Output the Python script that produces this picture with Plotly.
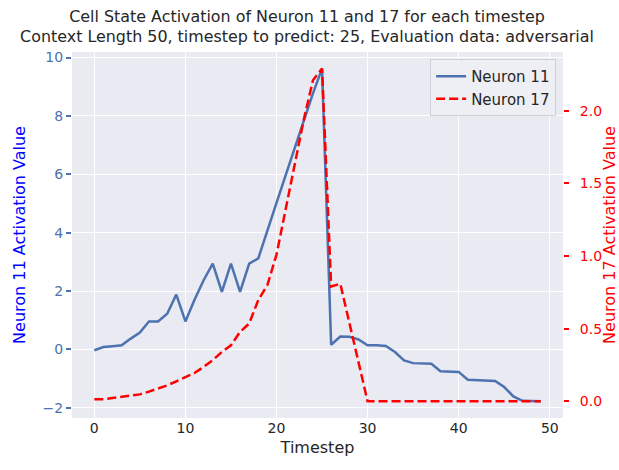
import plotly.graph_objects as go

timesteps = list(range(50))

neuron_11 = [
    -0.03, 0.08, 0.11, 0.14, 0.37, 0.58, 0.96, 0.96, 1.22, 1.88,
    0.96, 1.70, 2.37, 2.94, 1.97, 2.94, 1.97, 2.94, 3.12, 4.10,
    5.02, 5.96, 6.89, 7.85, 8.77, 9.62, 0.16, 0.44, 0.43, 0.34,
    0.14, 0.14, 0.12, -0.09, -0.38, -0.47, -0.47, -0.49, -0.75, -0.75,
    -0.77, -1.04, -1.06, -1.08, -1.08, -1.29, -1.61, -1.76, -1.78, -1.78,
]

neuron_17 = [
    0.015, 0.015, 0.023, 0.030, 0.037, 0.048, 0.067, 0.088, 0.110, 0.138,
    0.168, 0.195, 0.237, 0.283, 0.340, 0.386, 0.478, 0.536, 0.697, 0.800,
    1.01, 1.32, 1.62, 1.94, 2.21, 2.29, 0.79, 0.81, 0.54, 0.27,
    0.0, 0.0, 0.0, 0.0, 0.0, 0.0, 0.0, 0.0, 0.0, 0.0,
    0.0, 0.0, 0.0, 0.0, 0.0, 0.0, 0.0, 0.0, 0.0, 0.0,
]

x_ticks = [0, 10, 20, 30, 40, 50]
y1_ticks = [-2, 0, 2, 4, 6, 8, 10]
y2_ticks = [0.0, 0.5, 1.0, 1.5, 2.0]
y2_labels = ["0.0", "0.5", "1.0", "1.5", "2.0"]

title_text = ("Cell State Activation of Neuron 11 and 17 for each timestep<br>"
              "Context Length 50, timestep to predict: 25, Evaluation data: adversarial")

FONT = "DejaVu Sans"
BLUE = "#4c72b0"
RED = "#ff0000"

fig = go.Figure()
fig.add_trace(go.Scatter(
    x=timesteps, y=neuron_11, mode="lines", name="Neuron 11",
    line=dict(color=BLUE, width=2.5), yaxis="y",
))
fig.add_trace(go.Scatter(
    x=timesteps, y=neuron_17, mode="lines", name="Neuron 17",
    line=dict(color=RED, width=2.5, dash="9px,4px"), yaxis="y2",
))

fig.update_layout(
    width=619, height=470,
    margin=dict(l=72, r=56, t=52, b=52, autoexpand=False),
    paper_bgcolor="white",
    plot_bgcolor="#eaeaf2",
    font=dict(family=FONT, color="#262626"),
    title=dict(text=title_text, x=0.496, xref="container", xanchor="center",
               y=0.954, yref="container", yanchor="top", automargin=False,
               font=dict(family=FONT, size=15.9, color="#262626")),
    xaxis=dict(
        range=[-2.45, 51.45], tickvals=x_ticks, showgrid=True, gridcolor="white",
        gridwidth=1.2, zeroline=False, showline=False, ticks="", automargin=False,
        tickfont=dict(size=14, color="#262626"),
        title=dict(text="Timestep", font=dict(size=16, color="#262626"), standoff=6),
    ),
    yaxis=dict(
        range=[-2.35, 10.19], tickvals=y1_ticks, showgrid=True, gridcolor="white",
        gridwidth=1.2, zeroline=False, showline=False, ticks="outside", ticklen=5,
        tickcolor=BLUE, tickwidth=1.5, automargin=False,
        tickfont=dict(size=14, color=BLUE),
        title=dict(text="Neuron 11 Activation Value", font=dict(size=16, color="#0000ff"),
                   standoff=12),
    ),
    yaxis2=dict(
        range=[-0.1145, 2.404], tickvals=y2_ticks, ticktext=y2_labels,
        overlaying="y", side="right", showgrid=False, zeroline=False, showline=False,
        ticks="outside", ticklen=5, tickcolor=RED, tickwidth=1.5, automargin=False,
        ticklabelstandoff=8,
        tickfont=dict(size=14, color=RED),
        title=dict(text="Neuron 17 Activation Value", font=dict(size=16, color=RED),
                   standoff=6),
    ),
    legend=dict(
        x=0.986, y=0.981, xanchor="right", yanchor="top",
        bgcolor="rgba(238,238,245,0.9)", bordercolor="#d0d0d8", borderwidth=1,
        font=dict(size=15, color="#262626"),
    ),
    showlegend=True,
)

fig.write_html("out.html")
